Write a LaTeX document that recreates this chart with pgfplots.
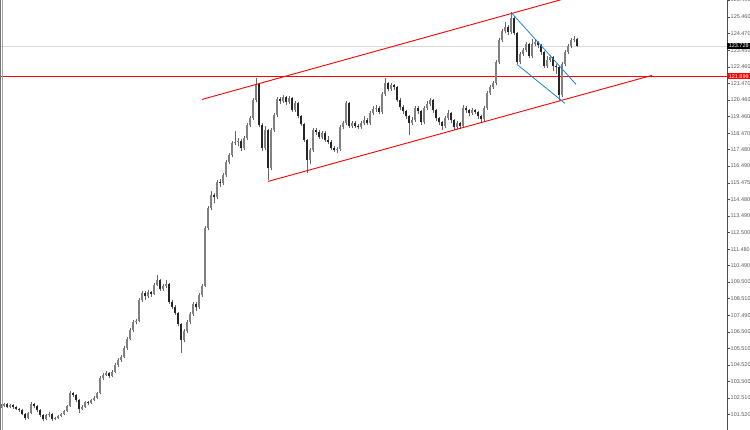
\documentclass[border=0pt]{standalone}
\usepackage{fontspec}
\setmainfont{Liberation Sans}
\usepackage{pgfplots}
\usepackage{pgfplotstable}
\pgfplotsset{compat=1.18}
\definecolor{mtred}{RGB}{255,0,0}
\definecolor{mtblue}{RGB}{30,130,220}
\pgfplotstableread{
x o h l c
1 101.95 102.13 101.89 102.01
4 102.01 102.22 101.95 102.13
7 102.13 102.19 101.89 101.95
10 101.95 102.16 101.89 102.07
13 102.07 102.13 101.86 101.95
16 101.95 102.01 101.77 101.83
19 101.83 101.92 101.68 101.77
22 101.77 101.83 101.47 101.53
25 101.53 101.59 101.20 101.29
28 101.29 101.68 101.23 101.59
31 101.59 102.28 101.53 102.13
34 102.13 102.22 101.92 102.01
37 102.01 102.07 101.68 101.77
40 101.77 101.83 101.38 101.47
43 101.47 101.53 101.10 101.22
46 101.22 101.56 101.16 101.47
49 101.47 101.65 101.38 101.53
52 101.53 101.59 101.13 101.22
55 101.22 101.38 101.16 101.29
58 101.29 101.50 101.23 101.41
61 101.41 101.62 101.35 101.53
64 101.53 101.80 101.47 101.71
67 101.71 102.10 101.65 102.01
70 102.01 102.95 101.95 102.79
73 102.79 102.88 102.55 102.67
76 102.67 102.73 102.28 102.37
79 102.37 102.43 101.62 101.83
82 101.83 102.07 101.77 101.95
85 101.95 102.34 101.89 102.25
88 102.25 102.34 102.10 102.19
91 102.19 102.46 102.13 102.37
94 102.37 102.61 102.31 102.49
97 102.49 102.88 102.43 102.79
100 102.79 103.82 102.73 103.70
103 103.70 104.00 103.58 103.88
106 103.88 104.12 103.82 104.00
109 104.00 104.09 103.70 103.82
112 103.82 104.18 103.76 104.06
115 104.06 104.60 104.00 104.48
118 104.48 104.90 104.36 104.78
121 104.78 105.08 104.66 104.96
124 104.96 105.62 104.90 105.50
127 105.50 106.17 105.38 106.05
130 106.05 106.71 105.99 106.59
133 106.59 107.19 106.47 107.07
136 107.07 107.25 106.95 107.13
139 107.13 108.51 107.07 108.39
142 108.39 108.94 108.27 108.82
145 108.82 108.94 108.40 108.64
148 108.64 109.00 108.52 108.88
151 108.88 108.97 108.58 108.76
154 108.76 109.42 108.70 109.30
157 109.30 109.90 109.24 109.60
160 109.60 109.66 108.94 109.06
163 109.06 109.36 108.94 109.24
166 109.24 109.60 109.12 109.36
169 109.36 109.42 108.15 108.27
172 108.27 108.39 107.85 107.97
175 107.97 108.09 107.49 107.61
178 107.61 107.67 106.83 106.95
181 106.95 107.01 105.20 105.98
184 105.98 106.65 105.86 106.53
187 106.53 107.19 106.41 107.07
190 107.07 107.67 106.95 107.55
193 107.55 108.27 107.43 108.15
196 108.15 108.27 107.73 107.97
199 107.97 108.82 107.85 108.70
202 108.70 109.36 108.58 109.24
205 109.24 112.85 109.18 112.73
208 112.73 114.06 112.61 113.94
211 113.94 114.96 113.82 114.72
214 114.72 114.84 114.24 114.60
217 114.60 115.62 114.48 115.50
220 115.50 115.68 115.20 115.44
223 115.44 116.04 115.32 115.92
226 115.92 116.83 115.80 116.71
229 116.71 117.25 116.59 117.13
232 117.13 117.97 117.01 117.85
235 117.85 118.60 117.73 117.91
238 117.91 118.15 117.67 117.97
241 117.97 118.09 117.37 117.55
244 117.55 118.27 117.43 118.15
247 118.15 119.06 118.03 118.94
250 118.94 119.48 118.82 119.36
253 119.36 120.56 119.24 120.44
256 120.44 121.77 120.32 121.41
259 121.41 121.47 118.82 118.94
262 118.94 119.06 117.37 117.55
265 117.55 118.88 117.43 118.64
268 118.64 118.70 115.62 116.35
271 116.35 118.76 116.23 118.64
274 118.64 119.66 118.52 119.54
277 119.54 120.62 119.42 120.50
280 120.50 120.62 120.20 120.38
283 120.38 120.74 120.26 120.62
286 120.62 120.68 120.14 120.32
289 120.32 120.68 120.20 120.56
292 120.56 120.62 119.72 119.84
295 119.84 120.38 119.72 120.26
298 120.26 120.32 119.36 119.48
301 119.48 119.54 118.88 119.00
304 119.00 119.06 117.91 118.03
307 118.03 118.09 116.04 116.83
310 116.83 117.55 116.59 117.43
313 117.43 118.76 117.31 118.64
316 118.64 118.76 118.33 118.51
319 118.51 118.63 118.09 118.21
322 118.21 118.57 118.09 118.45
325 118.45 118.57 117.91 118.03
328 118.03 118.27 117.79 117.91
331 117.91 118.03 117.43 117.55
334 117.55 117.67 117.31 117.43
337 117.43 117.61 117.25 117.49
340 117.49 118.94 117.37 118.82
343 118.82 119.18 118.70 119.06
346 119.06 120.38 118.94 120.26
349 120.26 120.32 118.76 118.88
352 118.88 119.18 118.76 119.06
355 119.06 119.18 118.76 118.88
358 118.88 119.00 118.70 118.82
361 118.82 119.18 118.70 119.06
364 119.06 119.48 118.94 119.24
367 119.24 119.36 118.94 119.06
370 119.06 119.78 118.94 119.66
373 119.66 120.08 119.54 119.90
376 119.90 120.14 119.72 119.96
379 119.96 120.08 119.60 119.72
382 119.72 120.92 119.60 120.80
385 120.80 121.77 120.68 121.47
388 121.47 121.53 120.98 121.10
391 121.10 121.47 120.98 121.35
394 121.35 121.41 121.04 121.22
397 121.22 121.28 120.32 120.44
400 120.44 120.56 119.84 120.02
403 120.02 120.14 119.60 119.78
406 119.78 119.84 119.30 119.48
409 119.48 119.54 118.33 119.06
412 119.06 119.42 118.94 119.24
415 119.24 120.08 119.12 119.96
418 119.96 120.08 119.60 119.78
421 119.78 119.84 118.94 119.12
424 119.12 120.08 119.00 119.96
427 119.96 120.38 119.84 120.20
430 120.20 120.56 120.08 120.44
433 120.44 120.50 119.66 119.84
436 119.84 119.90 119.18 119.36
439 119.36 119.42 118.94 119.12
442 119.12 119.18 118.64 118.88
445 118.88 119.48 118.76 119.36
448 119.36 119.84 119.24 119.66
451 119.66 119.72 119.06 119.24
454 119.24 119.30 118.64 118.82
457 118.82 119.18 118.70 119.06
460 119.06 119.12 118.70 118.88
463 118.88 120.14 118.76 119.96
466 119.96 120.08 119.66 119.84
469 119.84 119.90 119.48 119.66
472 119.66 119.96 119.54 119.84
475 119.84 119.90 119.60 119.72
478 119.72 119.78 119.30 119.48
481 119.48 119.54 119.06 119.30
484 119.30 120.08 119.18 119.96
487 119.96 120.98 119.84 120.86
490 120.86 121.35 120.74 121.22
493 121.22 121.59 121.10 121.47
496 121.47 122.85 121.35 122.73
499 122.73 124.18 122.61 124.06
502 124.06 124.72 123.94 124.60
505 124.60 125.14 124.48 124.84
508 124.84 124.96 124.36 124.54
511 124.54 125.74 124.42 125.38
514 125.38 125.50 124.36 124.48
517 124.48 124.54 122.61 122.73
520 122.73 123.33 122.61 123.21
523 123.21 123.57 123.09 123.45
526 123.45 123.94 123.33 123.82
529 123.82 123.88 122.97 123.09
532 123.09 124.12 122.97 123.82
535 123.82 124.06 123.70 123.94
538 123.94 124.00 123.58 123.76
541 123.76 123.82 123.15 123.33
544 123.33 123.39 122.37 122.49
547 122.49 123.09 122.37 122.85
550 122.85 123.15 122.73 123.03
553 123.03 123.09 122.19 122.49
556 122.49 122.61 122.01 122.43
559 122.43 122.49 120.38 120.74
562 120.74 122.73 120.62 122.61
565 122.61 123.45 122.49 123.33
568 123.33 123.82 123.21 123.70
571 123.70 124.18 123.58 124.06
574 124.06 124.30 123.94 124.12
577 124.12 124.18 123.67 123.728
}\candles
\begin{document}
\begin{tikzpicture}
\useasboundingbox (0,0) rectangle (750pt,430pt);
\clip (0,0) rectangle (750pt,430pt);
\begin{axis}[
  at={(0,0)}, anchor=south west,
  width=727pt, height=430pt, scale only axis,
  xmin=0, xmax=727, ymin=100.587, ymax=126.49,
  hide x axis,
  axis line style={draw=none},
  ytick pos=right,
  tick align=outside,
  major tick length=2.5pt,
  ytick style={black!70, line width=0.4pt},
  ytick={126.490,125.460,124.470,123.450,122.460,121.470,120.460,119.460,118.470,117.480,116.490,115.475,114.480,113.490,112.500,111.480,110.490,109.500,108.510,107.490,106.500,105.510,104.520,103.500,102.510,101.520},
  yticklabels={126.490,125.460,124.470,123.450,122.460,121.470,120.460,119.460,118.470,117.480,116.490,115.475,114.480,113.490,112.500,111.480,110.490,109.500,108.510,107.490,106.500,105.510,104.520,103.500,102.510,101.520},
  yticklabel style={font=\fontsize{5.5}{6}\selectfont, text=black!65, inner sep=0pt, xshift=1pt},
]
% current price and resistance lines
\addplot[black!15, line width=0.5pt, forget plot] coordinates {(0,123.728) (727,123.728)};
\addplot[mtred, line width=0.9pt, forget plot] coordinates {(0,121.899) (727,121.899)};
% wicks
\addplot[draw=none, mark=none, forget plot,
  error bars/.cd, y dir=plus, y explicit, error mark=none,
  error bar style={draw=black!60, line width=0.7pt}]
  table[x=x, y=l, y error expr=\thisrow{h}-\thisrow{l}] {\candles};
% up bodies
\addplot[draw=none, mark=none, forget plot,
  restrict expr to domain={\thisrow{c}-\thisrow{o}}{0:100},
  error bars/.cd, y dir=plus, y explicit, error mark=none,
  error bar style={draw=black!50, line width=1.9pt}]
  table[x=x, y=o, y error expr=\thisrow{c}-\thisrow{o}] {\candles};
% down bodies
\addplot[draw=none, mark=none, forget plot,
  restrict expr to domain={\thisrow{c}-\thisrow{o}}{-100:0},
  error bars/.cd, y dir=plus, y explicit, error mark=none,
  error bar style={draw=black!85, line width=1.9pt}]
  table[x=x, y=c, y error expr=\thisrow{o}-\thisrow{c}] {\candles};
% channel lines
\addplot[mtred, line width=0.9pt, forget plot] coordinates {(202,120.50) (600,127.16)};
\addplot[mtred, line width=0.9pt, forget plot] coordinates {(268,115.56) (652,121.95)};
% flag lines
\addplot[mtblue, line width=0.8pt, forget plot] coordinates {(512,125.68) (576,121.41)};
\addplot[mtblue, line width=0.8pt, forget plot] coordinates {(517,122.61) (565,120.26)};
\coordinate (cur) at (axis cs:727,123.728);
\coordinate (res) at (axis cs:727,121.899);
\end{axis}
\draw[black!70, line width=0.5pt] (727pt,0) -- (727pt,430pt);
\draw[black!55, line width=0.5pt] (0.4pt,0) -- (0.4pt,430pt);
\draw[black!35, line width=0.5pt] (2pt,0) -- (2pt,430pt);
\node[anchor=west, fill=black, text=white, font=\fontsize{5.5}{6}\selectfont, inner xsep=1pt, inner ysep=1pt, minimum width=23pt] at (cur) {123.728};
\node[anchor=west, fill=mtred, text=white, font=\fontsize{5.5}{6}\selectfont, inner xsep=1pt, inner ysep=1pt, minimum width=23pt] at (res) {121.899};
\end{tikzpicture}
\end{document}
